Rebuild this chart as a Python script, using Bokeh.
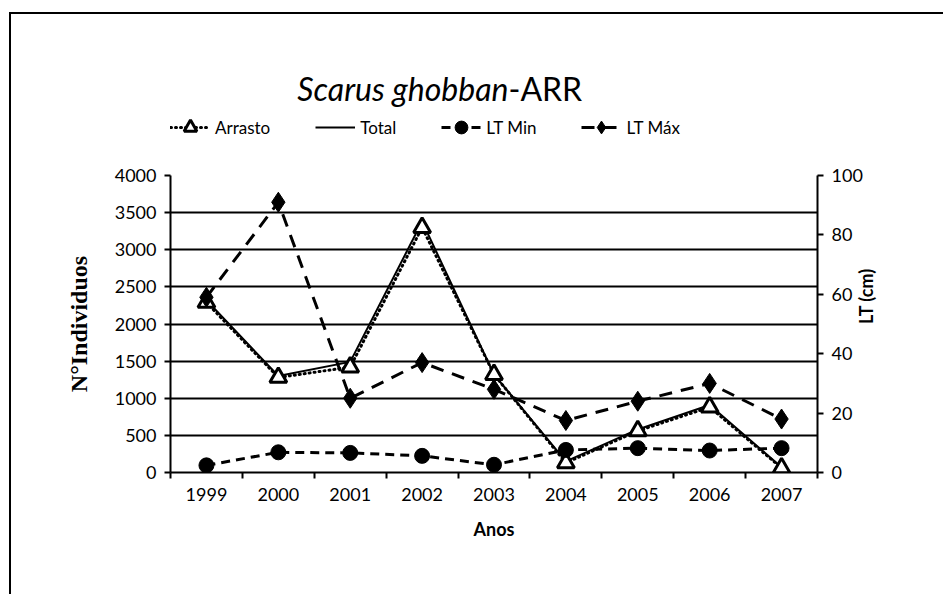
import math
from bokeh.plotting import figure
from bokeh.layouts import column
from bokeh.models import (LinearAxis, Range1d, FixedTicker, Legend, LegendItem, Label)
from bokeh.embed import file_html
from bokeh.resources import INLINE

# ---- data ----
years = [1999, 2000, 2001, 2002, 2003, 2004, 2005, 2006, 2007]
arrasto = [2290, 1280, 1420, 3300, 1320, 130, 560, 880, 60]
total = [2320, 1300, 1490, 3380, 1320, 150, 580, 910, 70]
lt_min = [2.4, 6.8, 6.6, 5.6, 2.6, 7.6, 8.2, 7.4, 8.2]
lt_max = [59, 91, 25, 37, 28, 17.5, 24, 30, 18]
left_ticks = [0, 500, 1000, 1500, 2000, 2500, 3000, 3500, 4000]
right_ticks = [0, 20, 40, 60, 80, 100]
series_names = ["Arrasto", "Total", "LT Min", "LT Máx"]
title_italic = "Scarus ghobban"
title_rest = "-ARR"

FONT = "Lato"
INK = "black"
W = 932
XR = (1998.5, 2007.5)
MB_L = 159
FRAME_W = 647
MB_R = W - MB_L - FRAME_W

# ---- series styles ----
ARR_LINE = dict(line_color=INK, line_width=3, line_dash="1 4", line_cap="round")
TOT_LINE = dict(line_color=INK, line_width=2)
ARR_MARK = dict(marker="triangle", size=17, fill_color="white", line_color=INK, line_width=3)
MIN_LINE = dict(line_color=INK, line_width=3, line_dash="9 6")
MIN_MARK = dict(marker="circle", size=15, fill_color=INK, line_color=INK)
MAX_LINE = dict(line_color=INK, line_width=3, line_dash="13 9")
MAX_MARK = dict(marker="diamond", size=20, fill_color=INK, line_color=INK)

# =================== main chart ===================
p = figure(width=W, height=430, output_backend="svg", toolbar_location=None,
           x_range=Range1d(*XR), y_range=Range1d(0, 4000),
           min_border_left=MB_L, min_border_right=MB_R, min_border_top=11,
           min_border_bottom=122)
p.outline_line_color = None
p.extra_y_ranges = {"lt": Range1d(0, 100)}

p.xgrid.visible = False
p.ygrid.ticker = FixedTicker(ticks=left_ticks)
p.ygrid.grid_line_color = INK
p.ygrid.grid_line_width = 2

ya = p.yaxis[0]
ya.ticker = FixedTicker(ticks=left_ticks)
ya.axis_line_width = 2
ya.axis_line_color = INK
ya.major_tick_out = 6
ya.major_tick_in = 0
ya.major_tick_line_width = 2
ya.major_tick_line_color = INK
ya.minor_tick_line_color = None
ya.major_label_text_font = FONT
ya.major_label_text_font_size = "18px"
ya.major_label_text_color = INK
ya.major_label_standoff = 8
ya.axis_label = "N°Individuos"
ya.axis_label_text_font = "Liberation Serif"
ya.axis_label_text_font_style = "bold"
ya.axis_label_text_font_size = "24px"
ya.axis_label_text_color = INK
ya.axis_label_standoff = 20

ra = LinearAxis(y_range_name="lt", ticker=FixedTicker(ticks=right_ticks),
                axis_label="LT (cm)")
ra.axis_line_width = 2
ra.axis_line_color = INK
ra.major_tick_out = 6
ra.major_tick_in = 0
ra.major_tick_line_width = 2
ra.major_tick_line_color = INK
ra.minor_tick_line_color = None
ra.major_label_text_font = FONT
ra.major_label_text_font_size = "18px"
ra.major_label_text_color = INK
ra.major_label_standoff = 8
ra.axis_label_text_font = FONT
ra.axis_label_text_font_style = "bold"
ra.axis_label_text_font_size = "18px"
ra.axis_label_text_color = INK
ra.axis_label_standoff = 0
ra.axis_label_orientation = math.pi / 2
p.add_layout(ra, "right")

xa = p.xaxis[0]
xa.ticker = FixedTicker(ticks=years, minor_ticks=[y - 0.5 for y in years] + [years[-1] + 0.5])
xa.axis_line_width = 2
xa.axis_line_color = INK
xa.major_tick_out = 0
xa.major_tick_in = 0
xa.minor_tick_out = 6
xa.minor_tick_in = 0
xa.minor_tick_line_width = 2
xa.minor_tick_line_color = INK
xa.major_label_text_font = FONT
xa.major_label_text_font_size = "18px"
xa.major_label_text_color = INK
xa.major_label_standoff = 9
xa.axis_label = "Anos"
xa.axis_label_text_font = FONT
xa.axis_label_text_font_style = "bold"
xa.axis_label_text_font_size = "18px"
xa.axis_label_text_color = INK
xa.axis_label_standoff = 14

p.line(years, arrasto, **ARR_LINE)
p.line(years, total, **TOT_LINE)
p.scatter(years, arrasto, **ARR_MARK)
p.line(years, lt_min, y_range_name="lt", **MIN_LINE)
p.scatter(years, lt_min, y_range_name="lt", **MIN_MARK)
p.line(years, lt_max, y_range_name="lt", **MAX_LINE)
p.scatter(years, lt_max, y_range_name="lt", **MAX_MARK)

# =================== header: title + legend ===================
# The header's x range is in pixels (0..frame width); the series (x = years)
# lie far outside it, so its renderers only serve as legend samples.
HT = 150
top = figure(width=W, height=HT, output_backend="svg", toolbar_location=None,
             x_range=Range1d(0, FRAME_W), y_range=Range1d(0, HT),
             min_border_left=MB_L, min_border_right=MB_R, min_border_top=0,
             min_border_bottom=0)
top.axis.visible = False
top.grid.visible = False
top.outline_line_color = None

l_arr = top.line(years, arrasto, **ARR_LINE)
m_arr = top.scatter(years, arrasto, **ARR_MARK)
l_tot = top.line(years, total, **TOT_LINE)
l_min = top.line(years, lt_min, **MIN_LINE)
m_min = top.scatter(years, lt_min, **MIN_MARK)
l_max = top.line(years, lt_max, **MAX_LINE)
m_max = top.scatter(years, lt_max, **MAX_MARK)

legend = Legend(items=[
    LegendItem(label=series_names[0], renderers=[l_arr, m_arr]),
    LegendItem(label=series_names[1], renderers=[l_tot]),
    LegendItem(label=series_names[2], renderers=[l_min, m_min]),
    LegendItem(label=series_names[3], renderers=[l_max, m_max]),
], orientation="horizontal", location=(0, 21), glyph_width=40, glyph_height=32,
    label_text_font=FONT, label_text_font_size="17px", label_text_color=INK,
    label_standoff=5, spacing=45,
    padding=0, margin=0, border_line_color=None, background_fill_alpha=0)
top.add_layout(legend)

tx = 338
ty = 76
top.add_layout(Label(x=tx, y=ty, text=title_italic, text_align="right", text_baseline="middle",
                     text_font=FONT, text_font_style="italic", text_font_size="32px",
                     text_color=INK))
top.add_layout(Label(x=tx, y=ty, text=title_rest, text_align="left", text_baseline="middle",
                     text_font=FONT, text_font_size="32px", text_color=INK))

lay = column(top, p, spacing=0)
lay.styles = {"border-top": "2px solid black", "border-left": "2px solid black",
              "margin-top": "12px", "margin-left": "9px"}

open("out.html", "w").write(file_html(lay, INLINE))
